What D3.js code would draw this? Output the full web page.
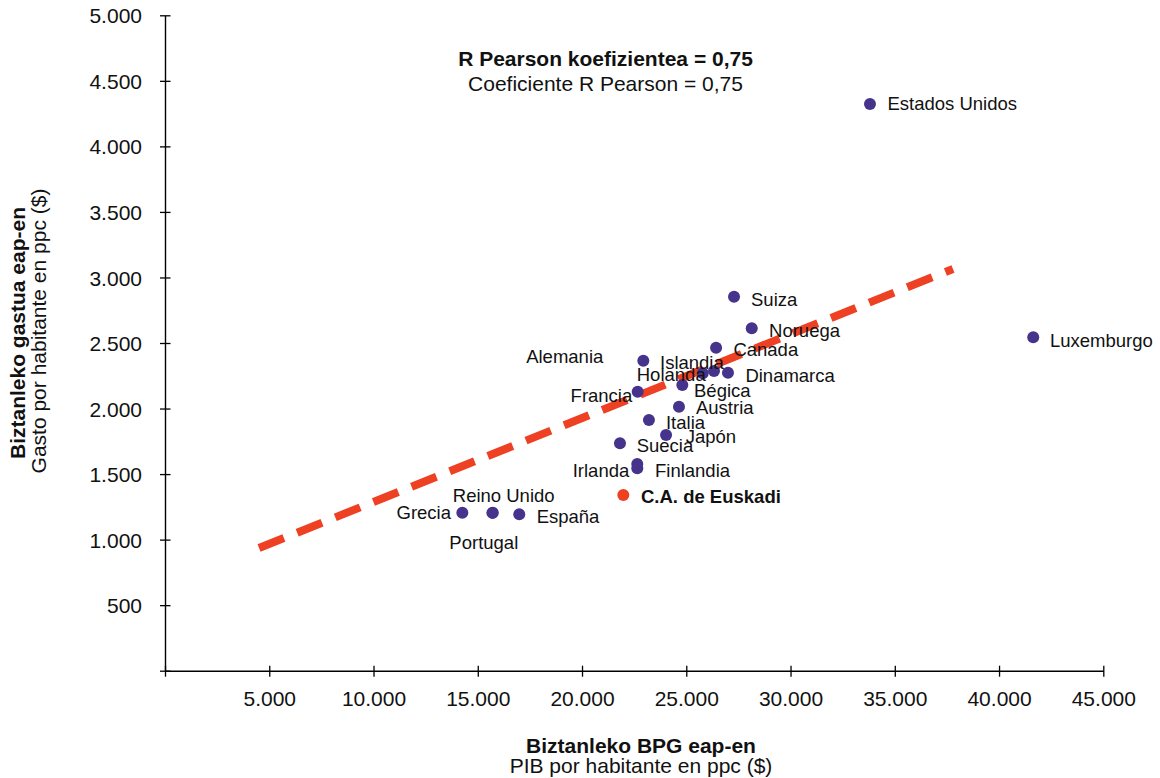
<!DOCTYPE html>
<html>
<head>
<meta charset="utf-8">
<script src="https://cdn.jsdelivr.net/npm/d3@7"></script>
<style>
  html, body { margin: 0; padding: 0; background: #fff; }
  svg { display: block; font-family: "Liberation Sans", Arial, Helvetica, sans-serif; }
</style>
</head>
<body>
<svg id="chart" width="1160" height="778"></svg>
<script>
// ---- Data ----
const countries = ["Estados Unidos", "Luxemburgo", "Suiza", "Noruega", "Canada", "Alemania",
  "Islandia", "Holanda", "Dinamarca", "Bégica", "Francia", "Austria", "Italia", "Japón",
  "Suecia", "Irlanda", "Finlandia", "C.A. de Euskadi", "Grecia", "Reino Unido", "España", "Portugal"];
const gdp = [33810, 41640, 27290, 28140, 26430, 22940,
  26330, 25790, 27000, 24810, 22670, 24650, 23210, 24030,
  21820, 22650, 22650, 21980, 14260, 15720, 16990, 15700];
const spending = [4323, 2543, 2853, 2612, 2464, 2365,
  2286, 2269, 2273, 2180, 2128, 2014, 1913, 1798,
  1735, 1577, 1544, 1340, 1205, 1205, 1193, 1204];
const highlightName = "C.A. de Euskadi";
const trendGdp = [4510, 37790];
const trendSpending = [936, 3065];
const xTicks = [0, 5000, 10000, 15000, 20000, 25000, 30000, 35000, 40000, 45000];
const yTicks = [0, 500, 1000, 1500, 2000, 2500, 3000, 3500, 4000, 4500, 5000];
const titleLines = ["R Pearson koefizientea = 0,75", "Coeficiente R Pearson = 0,75"];
const xTitle = ["Biztanleko BPG eap-en", "PIB por habitante en ppc ($)"];
const yTitle = ["Biztanleko gastua eap-en", "Gasto por habitante en ppc ($)"];

// ---- Label layout (anchor, dx, dy relative to the point) ----
const labelLayout = {
  "Estados Unidos": ["start", 17.5, 5.5],
  "Luxemburgo": ["start", 16.7, 9.4],
  "Suiza": ["start", 17, 9],
  "Noruega": ["start", 17.3, 8.7],
  "Canada": ["start", 17.3, 8],
  "Alemania": ["end", -40, 2.6],
  "Islandia": ["start", -54, -1.7],
  "Holanda": ["start", -66, 7.7],
  "Dinamarca": ["start", 17.4, 9],
  "Bégica": ["start", 11.7, 12.3],
  "Francia": ["end", -5.4, 10],
  "Austria": ["start", 17, 7.3],
  "Italia": ["start", 17, 9],
  "Japón": ["start", 19.7, 8.3],
  "Suecia": ["start", 16.7, 8.4],
  "Irlanda": ["end", -8, 12.7],
  "Finlandia": ["start", 17.7, 8.4],
  "C.A. de Euskadi": ["start", 17.7, 8.3],
  "Grecia": ["end", -11.3, 6.6],
  "Reino Unido": ["start", -40, -10.4],
  "España": ["start", 17.4, 9],
  "Portugal": ["start", -43, 36.5]
};

const purple = "#46338b";
const red = "#ee4023";

const svg = d3.select("#chart");
const x = d3.scaleLinear().domain([0, 45000]).range([165, 1103.3]);
const y = d3.scaleLinear().domain([0, 5000]).range([670.7, 15.3]);

const loc = d3.formatLocale({decimal: ",", thousands: ".", grouping: [3], currency: ["", "$"]});
const fmt = v => v === 0 ? "" : loc.format(",.0f")(v);

// Axes
const yAxis = svg.append("g").attr("transform", `translate(${x(0)},0)`)
  .call(d3.axisLeft(y).tickValues(yTicks).tickFormat(fmt).tickSizeOuter(0).tickSizeInner(5).tickPadding(18));
yAxis.select(".domain").attr("stroke", "#000").attr("stroke-width", 1.4);
yAxis.selectAll(".tick line").attr("x1", -5).attr("x2", 5.5).attr("stroke", "#000").attr("stroke-width", 1.3);
yAxis.selectAll(".tick text").attr("font-size", 21).attr("fill", "#111").attr("font-family", "Liberation Sans, Arial, sans-serif")
  .attr("dy", "0.36em");

const xAxis = svg.append("g").attr("transform", `translate(0,${y(0)})`)
  .call(d3.axisBottom(x).tickValues(xTicks).tickFormat(fmt).tickSizeOuter(0).tickSizeInner(6));
xAxis.select(".domain").attr("stroke", "#000").attr("stroke-width", 1.4);
xAxis.selectAll(".tick line").attr("y1", -5).attr("y2", 6).attr("stroke", "#000").attr("stroke-width", 1.3);
xAxis.selectAll(".tick text").attr("font-size", 21).attr("fill", "#111").attr("font-family", "Liberation Sans, Arial, sans-serif")
  .attr("y", 35.5).attr("dy", 0);

// Trend line
const trend = trendGdp.map((g, i) => [g, trendSpending[i]]);
svg.append("path")
  .datum(trend)
  .attr("d", d3.line().x(d => x(d[0])).y(d => y(d[1])))
  .attr("fill", "none")
  .attr("stroke", red)
  .attr("stroke-width", 8)
  .attr("stroke-dasharray", "26.8,14.3");

// Points
const pts = countries.map((c, i) => ({name: c, gdp: gdp[i], sp: spending[i]}));
svg.append("g").selectAll("circle").data(pts).join("circle")
  .attr("cx", d => x(d.gdp))
  .attr("cy", d => y(d.sp))
  .attr("r", 6)
  .attr("fill", d => d.name === highlightName ? red : purple);

// Labels
svg.append("g").selectAll("text").data(pts).join("text")
  .attr("x", d => x(d.gdp) + labelLayout[d.name][1])
  .attr("y", d => y(d.sp) + labelLayout[d.name][2])
  .attr("text-anchor", d => labelLayout[d.name][0])
  .attr("font-size", 18.5)
  .attr("font-weight", d => d.name === highlightName ? "bold" : "normal")
  .attr("fill", "#111")
  .text(d => d.name);

// Title
svg.append("text").attr("x", 605.5).attr("y", 66).attr("text-anchor", "middle")
  .attr("font-size", 21).attr("font-weight", "bold").attr("fill", "#111").text(titleLines[0]);
svg.append("text").attr("x", 605.5).attr("y", 91).attr("text-anchor", "middle")
  .attr("font-size", 21).attr("fill", "#111").text(titleLines[1]);

// X axis title
svg.append("text").attr("x", 641).attr("y", 753).attr("text-anchor", "middle")
  .attr("font-size", 21).attr("font-weight", "bold").attr("fill", "#111").text(xTitle[0]);
svg.append("text").attr("x", 641).attr("y", 773).attr("text-anchor", "middle")
  .attr("font-size", 21).attr("fill", "#111").text(xTitle[1]);

// Y axis title
svg.append("text").attr("transform", "translate(24.5,333) rotate(-90)").attr("text-anchor", "middle")
  .attr("font-size", 21).attr("font-weight", "bold").attr("fill", "#111").text(yTitle[0]);
svg.append("text").attr("transform", "translate(46,331) rotate(-90)").attr("text-anchor", "middle")
  .attr("font-size", 21).attr("fill", "#111").text(yTitle[1]);
</script>
</body>
</html>
